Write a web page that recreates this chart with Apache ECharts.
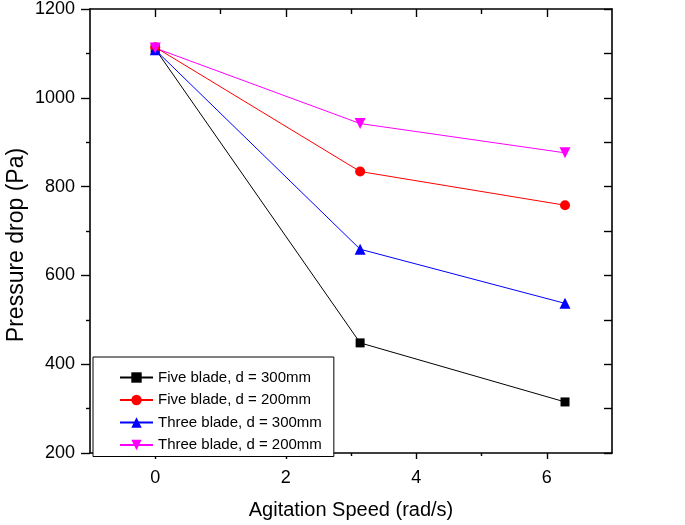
<!DOCTYPE html>
<html>
<head>
<meta charset="utf-8">
<script src="https://cdn.jsdelivr.net/npm/echarts@6/dist/echarts.min.js"></script>
<style>
html,body{margin:0;padding:0;background:#fff;}
#chart{width:685px;height:525px;}
</style>
</head>
<body>
<div id="chart"></div>
<script>
// Data
var speeds = [0, 3.14, 6.28];
var fiveBlade300 = [1110, 448, 315];
var fiveBlade200 = [1114, 834, 758];
var threeBlade300 = [1108, 659, 537];
var threeBlade200 = [1112, 942, 876];
var seriesNames = ['Five blade, d = 300mm', 'Five blade, d = 200mm', 'Three blade, d = 300mm', 'Three blade, d = 200mm'];
var xMajorTicks = [0, 2, 4, 6];
var xMinorTicks = [1, 3, 5];
var xTitle = 'Agitation Speed (rad/s)';
var yTitle = 'Pressure drop (Pa)';

function pairs(ys) { return speeds.map(function (x, i) { return [x, ys[i]]; }); }

var FONT = 'Liberation Sans, Arial, sans-serif';
var chart = echarts.init(document.getElementById('chart'), null, {renderer: 'canvas'});

function mk(name, data, color, symbol, size, rot) {
  return {
    name: name, type: 'line', data: pairs(data), xAxisIndex: 0, yAxisIndex: 0,
    symbol: symbol, symbolSize: size, symbolRotate: rot || 0,
    lineStyle: {color: color, width: 1}, itemStyle: {color: color},
    emphasis: {disabled: true}, animation: false, z: 3
  };
}

var lineStyle = {show: true, onZero: false, lineStyle: {color: '#000', width: 1.6}};
var option = {
  backgroundColor: '#fff',
  animation: false,
  grid: {left: 90, right: 73, top: 9, bottom: 72, containLabel: false},
  legend: {
    orient: 'vertical', left: 93, top: 357,
    data: seriesNames,
    itemWidth: 33, itemHeight: 13, itemGap: 7.5,
    padding: [13, 12, 4, 26],
    borderColor: '#000', borderWidth: 1, backgroundColor: '#fff',
    textStyle: {fontFamily: FONT, fontSize: 15, color: '#000'},
    selectedMode: false
  },
  xAxis: [
    {type: 'value', position: 'bottom', min: -1, max: 7, interval: 1,
     axisLine: lineStyle,
     axisTick: {show: true, customValues: xMajorTicks, length: 6, lineStyle: {color: '#000', width: 1.4}},
     axisLabel: {show: true, customValues: xMajorTicks, margin: 16, fontFamily: FONT, fontSize: 18, color: '#000'},
     splitLine: {show: false},
     name: xTitle, nameLocation: 'middle', nameGap: 47,
     nameTextStyle: {fontFamily: FONT, fontSize: 20, color: '#000'}},
    {type: 'value', position: 'bottom', min: -1, max: 7, interval: 1,
     axisLine: {show: false, onZero: false},
     axisTick: {show: true, customValues: xMinorTicks, length: 3, lineStyle: {color: '#000', width: 1.4}},
     axisLabel: {show: false}, splitLine: {show: false}},
    {type: 'value', position: 'top', min: -1, max: 7, interval: 1,
     axisLine: lineStyle,
     axisTick: {show: true, inside: true, customValues: xMajorTicks, length: 8, lineStyle: {color: '#000', width: 1.4}},
     axisLabel: {show: false}, splitLine: {show: false}},
    {type: 'value', position: 'top', min: -1, max: 7, interval: 1,
     axisLine: {show: false, onZero: false},
     axisTick: {show: true, inside: true, customValues: xMinorTicks, length: 5, lineStyle: {color: '#000', width: 1.4}},
     axisLabel: {show: false}, splitLine: {show: false}}
  ],
  yAxis: [
    {type: 'value', position: 'left', min: 200, max: 1200, interval: 200,
     axisLine: lineStyle,
     axisTick: {show: true, length: 9, lineStyle: {color: '#000', width: 1.4}},
     minorTick: {show: true, splitNumber: 2, length: 4, lineStyle: {color: '#000', width: 1.4}},
     axisLabel: {margin: 15, fontFamily: FONT, fontSize: 18, color: '#000',
                 formatter: function (v) { return String(v); }},
     splitLine: {show: false}, minorSplitLine: {show: false}},
    {type: 'value', position: 'right', min: 200, max: 1200, interval: 200,
     axisLine: lineStyle,
     axisTick: {show: true, inside: true, length: 8, lineStyle: {color: '#000', width: 1.4}},
     minorTick: {show: true, splitNumber: 2, length: 8, lineStyle: {color: '#000', width: 1.4}},
     axisLabel: {show: false},
     splitLine: {show: false}, minorSplitLine: {show: false}}
  ],
  graphic: [{
    type: 'text', x: 17, y: 245, rotation: Math.PI / 2,
    style: {text: yTitle, fontFamily: FONT, fontSize: 23, fill: '#000',
            align: 'center', verticalAlign: 'middle'}
  }],
  series: [
    mk(seriesNames[0], fiveBlade300, '#000000', 'rect', 9),
    mk(seriesNames[1], fiveBlade200, '#ff0000', 'circle', 10),
    mk(seriesNames[2], threeBlade300, '#0000ff', 'triangle', 11),
    mk(seriesNames[3], threeBlade200, '#ff00ff', 'triangle', 11, 180)
  ]
};
chart.setOption(option);
</script>
</body>
</html>
